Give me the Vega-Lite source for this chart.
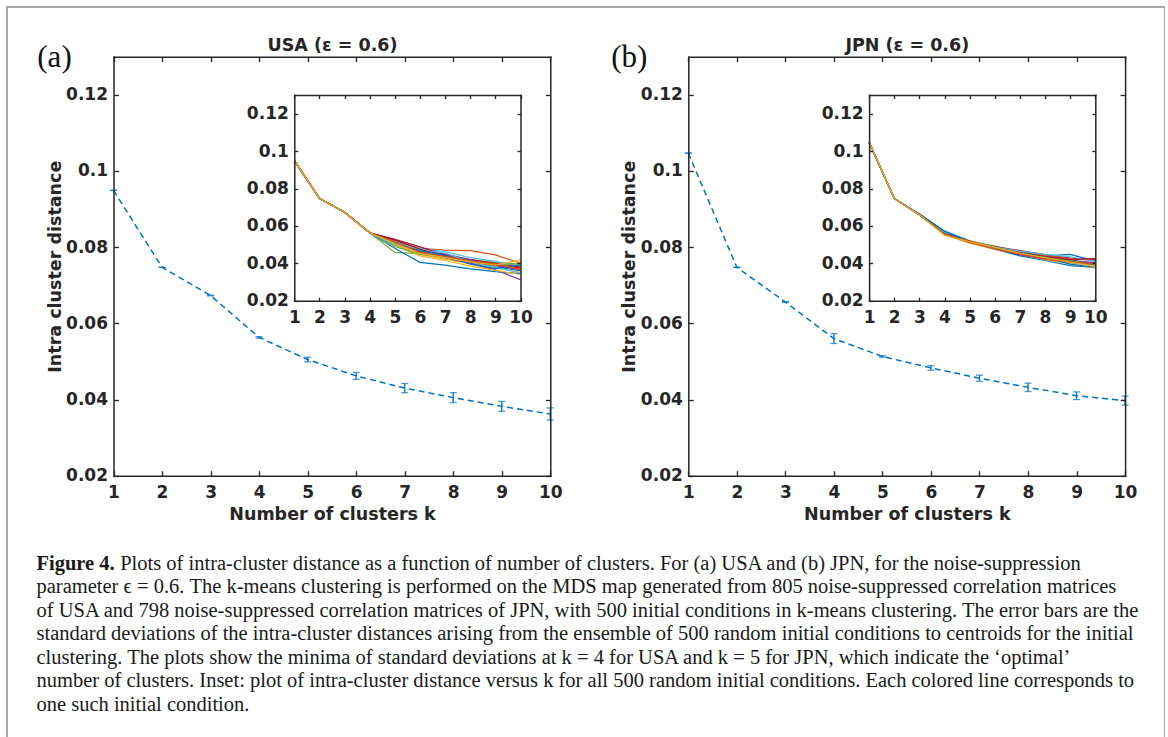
{
"$schema": "https://vega.github.io/schema/vega-lite/v6.json",
"width": 1158, "height": 760,
"autosize": "none",
"padding": {"left": 7, "top": 7, "right": 0, "bottom": 0},
"background": "white",
"config": {
  "view": {"stroke": "#8c8c8c", "strokeWidth": 1.5},
  "axis": {"grid": false, "domainColor": "#262626", "domainWidth": 1.5, "domainCap": "square", "tickColor": "#262626", "tickWidth": 1.3, "labelColor": "#262626", "labelFont": "DejaVu Sans", "labelFontWeight": "bold", "labelFontSize": 17, "labelFlush": false, "labelOverlap": false, "titleColor": "#262626", "titleFont": "DejaVu Sans", "titleFontWeight": "bold", "titleFontSize": 17.5, "titleBaseline": "alphabetic", "titleAlign": "center"}
},
"datasets": {
  "ma": [{"k":1,"v":0.0949,"err":0},{"k":2,"v":0.0747,"err":0},{"k":3,"v":0.0673,"err":0.0001},{"k":4,"v":0.0563,"err":0.0002},{"k":5,"v":0.0505,"err":0.0006},{"k":6,"v":0.0462,"err":0.0009},{"k":7,"v":0.043,"err":0.0012},{"k":8,"v":0.0405,"err":0.0013},{"k":9,"v":0.0382,"err":0.0013},{"k":10,"v":0.0362,"err":0.0016}],
  "mb": [{"k":1,"v":0.1047,"err":0},{"k":2,"v":0.0747,"err":0},{"k":3,"v":0.0656,"err":0.0001},{"k":4,"v":0.056,"err":0.0013},{"k":5,"v":0.0513,"err":0.0002},{"k":6,"v":0.0483,"err":0.0006},{"k":7,"v":0.0456,"err":0.0008},{"k":8,"v":0.0432,"err":0.0011},{"k":9,"v":0.041,"err":0.001},{"k":10,"v":0.0397,"err":0.0012}],
  "ia": [
{"r":"r01","k":1,"v":0.0949},{"r":"r01","k":2,"v":0.0747},{"r":"r01","k":3,"v":0.0673},{"r":"r01","k":4,"v":0.0563},{"r":"r01","k":5,"v":0.0505},{"r":"r01","k":6,"v":0.0455},{"r":"r01","k":7,"v":0.0428},{"r":"r01","k":8,"v":0.0402},{"r":"r01","k":9,"v":0.038},{"r":"r01","k":10,"v":0.036},
{"r":"r02","k":1,"v":0.0949},{"r":"r02","k":2,"v":0.0747},{"r":"r02","k":3,"v":0.0673},{"r":"r02","k":4,"v":0.0563},{"r":"r02","k":5,"v":0.052},{"r":"r02","k":6,"v":0.048},{"r":"r02","k":7,"v":0.047},{"r":"r02","k":8,"v":0.0468},{"r":"r02","k":9,"v":0.0445},{"r":"r02","k":10,"v":0.04},
{"r":"r03","k":1,"v":0.0949},{"r":"r03","k":2,"v":0.0747},{"r":"r03","k":3,"v":0.0673},{"r":"r03","k":4,"v":0.0563},{"r":"r03","k":5,"v":0.0498},{"r":"r03","k":6,"v":0.0447},{"r":"r03","k":7,"v":0.0422},{"r":"r03","k":8,"v":0.0398},{"r":"r03","k":9,"v":0.0375},{"r":"r03","k":10,"v":0.0352},
{"r":"r04","k":1,"v":0.0949},{"r":"r04","k":2,"v":0.0747},{"r":"r04","k":3,"v":0.0673},{"r":"r04","k":4,"v":0.0563},{"r":"r04","k":5,"v":0.0512},{"r":"r04","k":6,"v":0.0462},{"r":"r04","k":7,"v":0.0432},{"r":"r04","k":8,"v":0.04},{"r":"r04","k":9,"v":0.0365},{"r":"r04","k":10,"v":0.0312},
{"r":"r05","k":1,"v":0.0949},{"r":"r05","k":2,"v":0.0747},{"r":"r05","k":3,"v":0.0673},{"r":"r05","k":4,"v":0.0563},{"r":"r05","k":5,"v":0.0458},{"r":"r05","k":6,"v":0.0452},{"r":"r05","k":7,"v":0.044},{"r":"r05","k":8,"v":0.042},{"r":"r05","k":9,"v":0.0405},{"r":"r05","k":10,"v":0.0395},
{"r":"r06","k":1,"v":0.0949},{"r":"r06","k":2,"v":0.0747},{"r":"r06","k":3,"v":0.0673},{"r":"r06","k":4,"v":0.0563},{"r":"r06","k":5,"v":0.0515},{"r":"r06","k":6,"v":0.0478},{"r":"r06","k":7,"v":0.0462},{"r":"r06","k":8,"v":0.043},{"r":"r06","k":9,"v":0.041},{"r":"r06","k":10,"v":0.0385},
{"r":"r07","k":1,"v":0.0949},{"r":"r07","k":2,"v":0.0747},{"r":"r07","k":3,"v":0.0673},{"r":"r07","k":4,"v":0.0563},{"r":"r07","k":5,"v":0.0528},{"r":"r07","k":6,"v":0.0488},{"r":"r07","k":7,"v":0.0445},{"r":"r07","k":8,"v":0.042},{"r":"r07","k":9,"v":0.04},{"r":"r07","k":10,"v":0.038},
{"r":"r08","k":1,"v":0.0949},{"r":"r08","k":2,"v":0.0747},{"r":"r08","k":3,"v":0.0673},{"r":"r08","k":4,"v":0.0563},{"r":"r08","k":5,"v":0.048},{"r":"r08","k":6,"v":0.0405},{"r":"r08","k":7,"v":0.039},{"r":"r08","k":8,"v":0.037},{"r":"r08","k":9,"v":0.0355},{"r":"r08","k":10,"v":0.0345},
{"r":"r09","k":1,"v":0.0949},{"r":"r09","k":2,"v":0.0747},{"r":"r09","k":3,"v":0.0673},{"r":"r09","k":4,"v":0.0563},{"r":"r09","k":5,"v":0.0508},{"r":"r09","k":6,"v":0.0458},{"r":"r09","k":7,"v":0.044},{"r":"r09","k":8,"v":0.0415},{"r":"r09","k":9,"v":0.0395},{"r":"r09","k":10,"v":0.0372},
{"r":"r10","k":1,"v":0.0949},{"r":"r10","k":2,"v":0.0747},{"r":"r10","k":3,"v":0.0673},{"r":"r10","k":4,"v":0.0563},{"r":"r10","k":5,"v":0.0495},{"r":"r10","k":6,"v":0.044},{"r":"r10","k":7,"v":0.0415},{"r":"r10","k":8,"v":0.0385},{"r":"r10","k":9,"v":0.0362},{"r":"r10","k":10,"v":0.034},
{"r":"r11","k":1,"v":0.0949},{"r":"r11","k":2,"v":0.0747},{"r":"r11","k":3,"v":0.0673},{"r":"r11","k":4,"v":0.0563},{"r":"r11","k":5,"v":0.0502},{"r":"r11","k":6,"v":0.0465},{"r":"r11","k":7,"v":0.045},{"r":"r11","k":8,"v":0.0418},{"r":"r11","k":9,"v":0.039},{"r":"r11","k":10,"v":0.0365},
{"r":"r12","k":1,"v":0.0949},{"r":"r12","k":2,"v":0.0747},{"r":"r12","k":3,"v":0.0673},{"r":"r12","k":4,"v":0.0563},{"r":"r12","k":5,"v":0.049},{"r":"r12","k":6,"v":0.0448},{"r":"r12","k":7,"v":0.0435},{"r":"r12","k":8,"v":0.0412},{"r":"r12","k":9,"v":0.0392},{"r":"r12","k":10,"v":0.0398},
{"r":"r13","k":1,"v":0.0949},{"r":"r13","k":2,"v":0.0747},{"r":"r13","k":3,"v":0.0673},{"r":"r13","k":4,"v":0.0563},{"r":"r13","k":5,"v":0.05},{"r":"r13","k":6,"v":0.047},{"r":"r13","k":7,"v":0.0455},{"r":"r13","k":8,"v":0.0408},{"r":"r13","k":9,"v":0.0378},{"r":"r13","k":10,"v":0.0348},
{"r":"r14","k":1,"v":0.0949},{"r":"r14","k":2,"v":0.0747},{"r":"r14","k":3,"v":0.0673},{"r":"r14","k":4,"v":0.0563},{"r":"r14","k":5,"v":0.0525},{"r":"r14","k":6,"v":0.0475},{"r":"r14","k":7,"v":0.0438},{"r":"r14","k":8,"v":0.041},{"r":"r14","k":9,"v":0.0388},{"r":"r14","k":10,"v":0.0375},
{"r":"r15","k":1,"v":0.0949},{"r":"r15","k":2,"v":0.0747},{"r":"r15","k":3,"v":0.0673},{"r":"r15","k":4,"v":0.0563},{"r":"r15","k":5,"v":0.051},{"r":"r15","k":6,"v":0.0468},{"r":"r15","k":7,"v":0.0442},{"r":"r15","k":8,"v":0.0395},{"r":"r15","k":9,"v":0.0372},{"r":"r15","k":10,"v":0.0392},
{"r":"r16","k":1,"v":0.0949},{"r":"r16","k":2,"v":0.0747},{"r":"r16","k":3,"v":0.0673},{"r":"r16","k":4,"v":0.0563},{"r":"r16","k":5,"v":0.0515},{"r":"r16","k":6,"v":0.046},{"r":"r16","k":7,"v":0.0436},{"r":"r16","k":8,"v":0.0412},{"r":"r16","k":9,"v":0.0398},{"r":"r16","k":10,"v":0.0366},
{"r":"r17","k":1,"v":0.0949},{"r":"r17","k":2,"v":0.0747},{"r":"r17","k":3,"v":0.0673},{"r":"r17","k":4,"v":0.0563},{"r":"r17","k":5,"v":0.0505},{"r":"r17","k":6,"v":0.0452},{"r":"r17","k":7,"v":0.043},{"r":"r17","k":8,"v":0.0408},{"r":"r17","k":9,"v":0.039},{"r":"r17","k":10,"v":0.0418}
  ],
  "ib": [
{"r":"r01","k":1,"v":0.1047},{"r":"r01","k":2,"v":0.0747},{"r":"r01","k":3,"v":0.0662},{"r":"r01","k":4,"v":0.0572},{"r":"r01","k":5,"v":0.052},{"r":"r01","k":6,"v":0.0488},{"r":"r01","k":7,"v":0.0462},{"r":"r01","k":8,"v":0.044},{"r":"r01","k":9,"v":0.0448},{"r":"r01","k":10,"v":0.0412},
{"r":"r02","k":1,"v":0.1047},{"r":"r02","k":2,"v":0.0747},{"r":"r02","k":3,"v":0.066},{"r":"r02","k":4,"v":0.0558},{"r":"r02","k":5,"v":0.0515},{"r":"r02","k":6,"v":0.048},{"r":"r02","k":7,"v":0.0455},{"r":"r02","k":8,"v":0.0425},{"r":"r02","k":9,"v":0.0405},{"r":"r02","k":10,"v":0.0392},
{"r":"r03","k":1,"v":0.1047},{"r":"r03","k":2,"v":0.0747},{"r":"r03","k":3,"v":0.066},{"r":"r03","k":4,"v":0.0553},{"r":"r03","k":5,"v":0.052},{"r":"r03","k":6,"v":0.049},{"r":"r03","k":7,"v":0.0458},{"r":"r03","k":8,"v":0.043},{"r":"r03","k":9,"v":0.0408},{"r":"r03","k":10,"v":0.0383},
{"r":"r04","k":1,"v":0.1047},{"r":"r04","k":2,"v":0.0747},{"r":"r04","k":3,"v":0.066},{"r":"r04","k":4,"v":0.056},{"r":"r04","k":5,"v":0.0512},{"r":"r04","k":6,"v":0.0484},{"r":"r04","k":7,"v":0.046},{"r":"r04","k":8,"v":0.0438},{"r":"r04","k":9,"v":0.0418},{"r":"r04","k":10,"v":0.04},
{"r":"r05","k":1,"v":0.1047},{"r":"r05","k":2,"v":0.0747},{"r":"r05","k":3,"v":0.066},{"r":"r05","k":4,"v":0.0562},{"r":"r05","k":5,"v":0.0518},{"r":"r05","k":6,"v":0.0492},{"r":"r05","k":7,"v":0.0462},{"r":"r05","k":8,"v":0.0435},{"r":"r05","k":9,"v":0.0412},{"r":"r05","k":10,"v":0.0398},
{"r":"r06","k":1,"v":0.1047},{"r":"r06","k":2,"v":0.0747},{"r":"r06","k":3,"v":0.066},{"r":"r06","k":4,"v":0.0563},{"r":"r06","k":5,"v":0.051},{"r":"r06","k":6,"v":0.0478},{"r":"r06","k":7,"v":0.045},{"r":"r06","k":8,"v":0.0428},{"r":"r06","k":9,"v":0.0402},{"r":"r06","k":10,"v":0.0385},
{"r":"r07","k":1,"v":0.1047},{"r":"r07","k":2,"v":0.0747},{"r":"r07","k":3,"v":0.066},{"r":"r07","k":4,"v":0.0558},{"r":"r07","k":5,"v":0.0514},{"r":"r07","k":6,"v":0.049},{"r":"r07","k":7,"v":0.0468},{"r":"r07","k":8,"v":0.0446},{"r":"r07","k":9,"v":0.0428},{"r":"r07","k":10,"v":0.042},
{"r":"r08","k":1,"v":0.1047},{"r":"r08","k":2,"v":0.0747},{"r":"r08","k":3,"v":0.0664},{"r":"r08","k":4,"v":0.057},{"r":"r08","k":5,"v":0.0511},{"r":"r08","k":6,"v":0.0476},{"r":"r08","k":7,"v":0.044},{"r":"r08","k":8,"v":0.0415},{"r":"r08","k":9,"v":0.0388},{"r":"r08","k":10,"v":0.0378},
{"r":"r09","k":1,"v":0.1047},{"r":"r09","k":2,"v":0.0747},{"r":"r09","k":3,"v":0.066},{"r":"r09","k":4,"v":0.0556},{"r":"r09","k":5,"v":0.0516},{"r":"r09","k":6,"v":0.0486},{"r":"r09","k":7,"v":0.0462},{"r":"r09","k":8,"v":0.0442},{"r":"r09","k":9,"v":0.0425},{"r":"r09","k":10,"v":0.0416},
{"r":"r10","k":1,"v":0.1047},{"r":"r10","k":2,"v":0.0747},{"r":"r10","k":3,"v":0.066},{"r":"r10","k":4,"v":0.0552},{"r":"r10","k":5,"v":0.0508},{"r":"r10","k":6,"v":0.0475},{"r":"r10","k":7,"v":0.0448},{"r":"r10","k":8,"v":0.042},{"r":"r10","k":9,"v":0.0398},{"r":"r10","k":10,"v":0.0375},
{"r":"r11","k":1,"v":0.1047},{"r":"r11","k":2,"v":0.0747},{"r":"r11","k":3,"v":0.066},{"r":"r11","k":4,"v":0.056},{"r":"r11","k":5,"v":0.0513},{"r":"r11","k":6,"v":0.0479},{"r":"r11","k":7,"v":0.0445},{"r":"r11","k":8,"v":0.0422},{"r":"r11","k":9,"v":0.041},{"r":"r11","k":10,"v":0.0405},
{"r":"r12","k":1,"v":0.1047},{"r":"r12","k":2,"v":0.0747},{"r":"r12","k":3,"v":0.066},{"r":"r12","k":4,"v":0.0561},{"r":"r12","k":5,"v":0.0517},{"r":"r12","k":6,"v":0.0483},{"r":"r12","k":7,"v":0.0452},{"r":"r12","k":8,"v":0.0428},{"r":"r12","k":9,"v":0.0415},{"r":"r12","k":10,"v":0.039},
{"r":"r13","k":1,"v":0.1047},{"r":"r13","k":2,"v":0.0747},{"r":"r13","k":3,"v":0.0661},{"r":"r13","k":4,"v":0.0565},{"r":"r13","k":5,"v":0.0515},{"r":"r13","k":6,"v":0.0487},{"r":"r13","k":7,"v":0.0465},{"r":"r13","k":8,"v":0.0448},{"r":"r13","k":9,"v":0.0435},{"r":"r13","k":10,"v":0.041},
{"r":"r14","k":1,"v":0.1047},{"r":"r14","k":2,"v":0.0747},{"r":"r14","k":3,"v":0.066},{"r":"r14","k":4,"v":0.0557},{"r":"r14","k":5,"v":0.0519},{"r":"r14","k":6,"v":0.0481},{"r":"r14","k":7,"v":0.0457},{"r":"r14","k":8,"v":0.0436},{"r":"r14","k":9,"v":0.042},{"r":"r14","k":10,"v":0.0425},
{"r":"r15","k":1,"v":0.1047},{"r":"r15","k":2,"v":0.0747},{"r":"r15","k":3,"v":0.0663},{"r":"r15","k":4,"v":0.0571},{"r":"r15","k":5,"v":0.0514},{"r":"r15","k":6,"v":0.0482},{"r":"r15","k":7,"v":0.0456},{"r":"r15","k":8,"v":0.0432},{"r":"r15","k":9,"v":0.0395},{"r":"r15","k":10,"v":0.038},
{"r":"r16","k":1,"v":0.1047},{"r":"r16","k":2,"v":0.0747},{"r":"r16","k":3,"v":0.066},{"r":"r16","k":4,"v":0.0555},{"r":"r16","k":5,"v":0.0512},{"r":"r16","k":6,"v":0.0477},{"r":"r16","k":7,"v":0.045},{"r":"r16","k":8,"v":0.0424},{"r":"r16","k":9,"v":0.0406},{"r":"r16","k":10,"v":0.0395},
{"r":"r17","k":1,"v":0.1047},{"r":"r17","k":2,"v":0.0747},{"r":"r17","k":3,"v":0.066},{"r":"r17","k":4,"v":0.055},{"r":"r17","k":5,"v":0.0516},{"r":"r17","k":6,"v":0.0485},{"r":"r17","k":7,"v":0.0455},{"r":"r17","k":8,"v":0.043},{"r":"r17","k":9,"v":0.0407},{"r":"r17","k":10,"v":0.0382}
  ]
},
"resolve": {"scale": {"x": "independent", "y": "independent"}, "axis": {"x": "independent", "y": "independent"}},
"layer": [
  {"data": {"values": [{}]}, "mark": {"type": "rect", "opacity": 0},
   "encoding": {
     "x": {"datum": 1, "type": "quantitative", "scale": {"domain": [1, 10], "range": [106.5, 543.3], "nice": false, "zero": false},
       "axis": {"orient": "top", "zindex": 1, "offset": -49.7, "values": [1,2,3,4,5,6,7,8,9,10], "labels": false, "tickSize": -5, "title": "USA (ε = 0.6)", "titleX": 325, "titleY": -6.7, "titleAngle": 0}},
     "x2": {"datum": 10},
     "y": {"datum": 0.02, "type": "quantitative", "scale": {"domain": [0.02, 0.13], "range": [468.7, 49.7], "nice": false, "zero": false},
       "axis": {"orient": "right", "zindex": 1, "offset": -614.7, "values": [0.02,0.04,0.06,0.08,0.1,0.12], "labels": false, "tickSize": -5, "title": "(a)", "titleX": -496.3, "titleY": 59.5, "titleAngle": 0, "titleFont": "Liberation Serif", "titleFontWeight": "normal", "titleFontSize": 31, "titleColor": "#111111"}},
     "y2": {"datum": 0.13}
   }},
  {"data": {"name": "ma"}, "mark": {"type": "line", "color": "#0072BD", "strokeDash": [6, 4], "strokeWidth": 1.5},
   "encoding": {
     "x": {"field": "k", "type": "quantitative", "scale": {"domain": [1, 10], "range": [106.5, 543.3], "nice": false, "zero": false},
       "axis": {"orient": "bottom", "zindex": 1, "offset": -291.3, "values": [1,2,3,4,5,6,7,8,9,10], "tickSize": -5, "labelPadding": 13.3, "title": "Number of clusters k", "titleX": 325, "titleY": 43.6, "titleAngle": 0}},
     "y": {"field": "v", "type": "quantitative", "scale": {"domain": [0.02, 0.13], "range": [468.7, 49.7], "nice": false, "zero": false},
       "axis": {"orient": "left", "zindex": 1, "offset": -106.5, "values": [0.02,0.04,0.06,0.08,0.1,0.12], "format": "~g", "tickSize": -5, "labelPadding": 11, "title": "Intra cluster distance", "titleX": -53.5, "titleY": 259.2, "titleAngle": -90}}
   }},
  {"data": {"name": "ma"}, "mark": {"type": "errorbar", "color": "#0072BD", "thickness": 1.3, "ticks": {"size": 7, "thickness": 1.3}},
   "encoding": {
     "x": {"field": "k", "type": "quantitative", "scale": {"domain": [1, 10], "range": [106.5, 543.3], "nice": false, "zero": false}, "axis": null},
     "y": {"field": "v", "type": "quantitative", "scale": {"domain": [0.02, 0.13], "range": [468.7, 49.7], "nice": false, "zero": false}, "axis": null},
     "yError": {"field": "err"}
   }},
  {"data": {"values": [{}]}, "mark": {"type": "rect", "opacity": 0},
   "encoding": {
     "x": {"datum": 1, "type": "quantitative", "scale": {"domain": [1, 10], "range": [287.3, 513.5], "nice": false, "zero": false},
       "axis": {"orient": "top", "zindex": 1, "offset": -88, "values": [1,2,3,4,5,6,7,8,9,10], "labels": false, "tickSize": -3.5, "titleAngle": 0,
         "title": ["parameter ϵ = 0.6. The k-means clustering is performed on the MDS map generated from 805 noise-suppressed correlation matrices", "of USA and 798 noise-suppressed correlation matrices of JPN, with 500 initial conditions in k-means clustering. The error bars are the", "standard deviations of the intra-cluster distances arising from the ensemble of 500 random initial conditions to centroids for the initial", "clustering. The plots show the minima of standard deviations at k = 4 for USA and k = 5 for JPN, which indicate the ‘optimal’", "number of clusters. Inset: plot of intra-cluster distance versus k for all 500 random initial conditions. Each colored line corresponds to", "one such initial condition."],
         "titleX": 29, "titleY": 497.6, "titleAlign": "left", "titleFont": "Liberation Serif", "titleFontWeight": "normal", "titleFontSize": 20.5, "titleLineHeight": 23.6, "titleColor": "#1a1a1a"}},
     "x2": {"datum": 10},
     "y": {"datum": 0.02, "type": "quantitative", "scale": {"domain": [0.02, 0.13], "range": [293.7, 88], "nice": false, "zero": false},
       "axis": {"orient": "right", "zindex": 1, "offset": -644.5, "values": [0.02,0.04,0.06,0.08,0.1,0.12], "labels": false, "tickSize": -3.5, "title": null}},
     "y2": {"datum": 0.13}
   }},
  {"data": {"name": "ia"}, "mark": {"type": "line", "strokeWidth": 1.2},
   "encoding": {
     "x": {"field": "k", "type": "quantitative", "scale": {"domain": [1, 10], "range": [287.3, 513.5], "nice": false, "zero": false},
       "axis": {"orient": "bottom", "zindex": 1, "offset": -466.3, "values": [1,2,3,4,5,6,7,8,9,10], "tickSize": -3.5, "labelPadding": 11.8, "titleAngle": 0,
         "title": "Figure 4.", "titleX": 29, "titleY": 268.3, "titleAlign": "left", "titleFont": "Liberation Serif", "titleFontWeight": "bold", "titleFontSize": 20.5, "titleColor": "#1a1a1a"}},
     "y": {"field": "v", "type": "quantitative", "scale": {"domain": [0.02, 0.13], "range": [293.7, 88], "nice": false, "zero": false},
       "axis": {"orient": "left", "zindex": 1, "offset": -287.3, "values": [0.02,0.04,0.06,0.08,0.1,0.12], "format": "~g", "tickSize": -3.5, "labelPadding": 9.5, "title": null}},
     "color": {"field": "r", "type": "nominal", "scale": {"range": ["#0072BD", "#D95319", "#EDB120", "#7E2F8E", "#77AC30", "#4DBEEE", "#A2142F"]}, "legend": null}
   }},
  {"data": {"values": [{}]}, "mark": {"type": "rect", "opacity": 0},
   "encoding": {
     "x": {"datum": 1, "type": "quantitative", "scale": {"domain": [1, 10], "range": [681.3, 1118.1], "nice": false, "zero": false},
       "axis": {"orient": "top", "zindex": 1, "offset": -49.7, "values": [1,2,3,4,5,6,7,8,9,10], "labels": false, "tickSize": -5, "title": "JPN (ε = 0.6)", "titleX": 899.8, "titleY": -6.7, "titleAngle": 0}},
     "x2": {"datum": 10},
     "y": {"datum": 0.02, "type": "quantitative", "scale": {"domain": [0.02, 0.13], "range": [468.7, 49.7], "nice": false, "zero": false},
       "axis": {"orient": "right", "zindex": 1, "offset": -39.9, "values": [0.02,0.04,0.06,0.08,0.1,0.12], "labels": false, "tickSize": -5, "title": "(b)", "titleX": -496.3, "titleY": 59.5, "titleAngle": 0, "titleFont": "Liberation Serif", "titleFontWeight": "normal", "titleFontSize": 31, "titleColor": "#111111"}},
     "y2": {"datum": 0.13}
   }},
  {"data": {"name": "mb"}, "mark": {"type": "line", "color": "#0072BD", "strokeDash": [6, 4], "strokeWidth": 1.5},
   "encoding": {
     "x": {"field": "k", "type": "quantitative", "scale": {"domain": [1, 10], "range": [681.3, 1118.1], "nice": false, "zero": false},
       "axis": {"orient": "bottom", "zindex": 1, "offset": -291.3, "values": [1,2,3,4,5,6,7,8,9,10], "tickSize": -5, "labelPadding": 13.3, "title": "Number of clusters k", "titleX": 899.8, "titleY": 43.6, "titleAngle": 0}},
     "y": {"field": "v", "type": "quantitative", "scale": {"domain": [0.02, 0.13], "range": [468.7, 49.7], "nice": false, "zero": false},
       "axis": {"orient": "left", "zindex": 1, "offset": -681.3, "values": [0.02,0.04,0.06,0.08,0.1,0.12], "format": "~g", "tickSize": -5, "labelPadding": 11, "title": "Intra cluster distance", "titleX": -53.5, "titleY": 259.2, "titleAngle": -90}}
   }},
  {"data": {"name": "mb"}, "mark": {"type": "errorbar", "color": "#0072BD", "thickness": 1.3, "ticks": {"size": 7, "thickness": 1.3}},
   "encoding": {
     "x": {"field": "k", "type": "quantitative", "scale": {"domain": [1, 10], "range": [681.3, 1118.1], "nice": false, "zero": false}, "axis": null},
     "y": {"field": "v", "type": "quantitative", "scale": {"domain": [0.02, 0.13], "range": [468.7, 49.7], "nice": false, "zero": false}, "axis": null},
     "yError": {"field": "err"}
   }},
  {"data": {"values": [{}]}, "mark": {"type": "rect", "opacity": 0},
   "encoding": {
     "x": {"datum": 1, "type": "quantitative", "scale": {"domain": [1, 10], "range": [862.1, 1088.3], "nice": false, "zero": false},
       "axis": {"orient": "top", "zindex": 1, "offset": -88, "values": [1,2,3,4,5,6,7,8,9,10], "labels": false, "tickSize": -3.5, "title": null}},
     "x2": {"datum": 10},
     "y": {"datum": 0.02, "type": "quantitative", "scale": {"domain": [0.02, 0.13], "range": [293.7, 88], "nice": false, "zero": false},
       "axis": {"orient": "right", "zindex": 1, "offset": -69.7, "values": [0.02,0.04,0.06,0.08,0.1,0.12], "labels": false, "tickSize": -3.5, "title": null}},
     "y2": {"datum": 0.13}
   }},
  {"data": {"name": "ib"}, "mark": {"type": "line", "strokeWidth": 1.2},
   "encoding": {
     "x": {"field": "k", "type": "quantitative", "scale": {"domain": [1, 10], "range": [862.1, 1088.3], "nice": false, "zero": false},
       "axis": {"orient": "bottom", "zindex": 1, "offset": -466.3, "values": [1,2,3,4,5,6,7,8,9,10], "tickSize": -3.5, "labelPadding": 11.8, "titleAngle": 0,
         "title": "Plots of intra-cluster distance as a function of number of clusters. For (a) USA and (b) JPN, for the noise-suppression", "titleX": 112.7, "titleY": 268.3, "titleAlign": "left", "titleFont": "Liberation Serif", "titleFontWeight": "normal", "titleFontSize": 20.5, "titleColor": "#1a1a1a"}},
     "y": {"field": "v", "type": "quantitative", "scale": {"domain": [0.02, 0.13], "range": [293.7, 88], "nice": false, "zero": false},
       "axis": {"orient": "left", "zindex": 1, "offset": -862.1, "values": [0.02,0.04,0.06,0.08,0.1,0.12], "format": "~g", "tickSize": -3.5, "labelPadding": 9.5, "title": null}},
     "color": {"field": "r", "type": "nominal", "scale": {"range": ["#0072BD", "#D95319", "#EDB120", "#7E2F8E", "#77AC30", "#4DBEEE", "#A2142F"]}, "legend": null}
   }}
]
}
